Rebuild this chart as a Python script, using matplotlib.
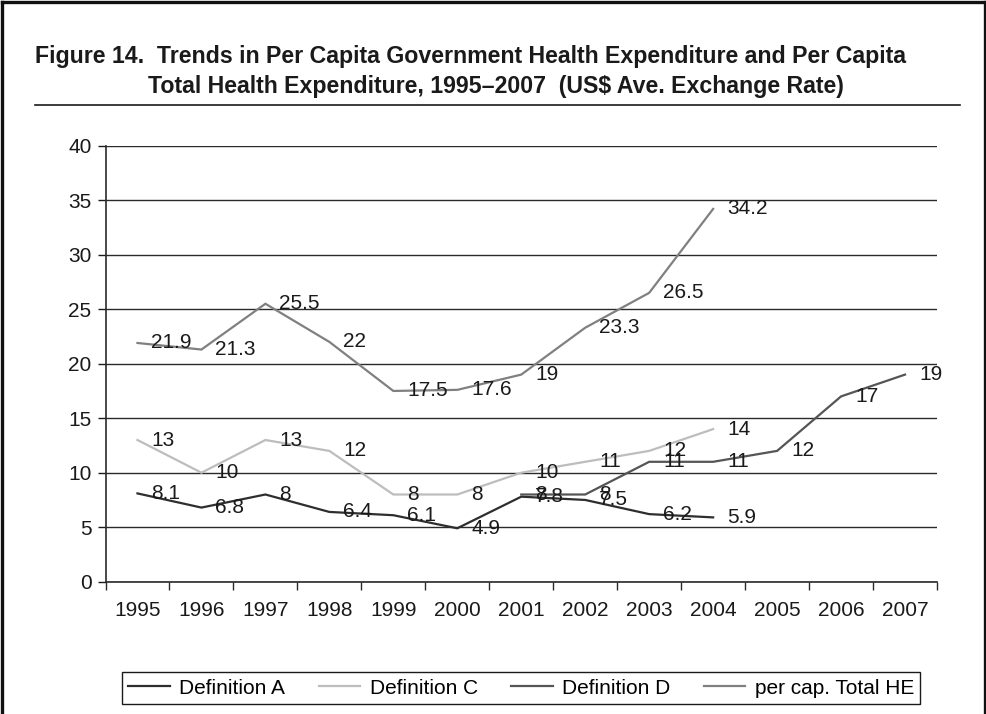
import matplotlib
matplotlib.use("Agg")
import matplotlib.pyplot as plt
from matplotlib.lines import Line2D
import numpy as np

years = ["1995", "1996", "1997", "1998", "1999", "2000", "2001",
         "2002", "2003", "2004", "2005", "2006", "2007"]
def_a = [8.1, 6.8, 8, 6.4, 6.1, 4.9, 7.8, 7.5, 6.2, 5.9, None, None, None]
def_c = [13, 10, 13, 12, 8, 8, 10, 11, 12, 14, None, None, None]
def_d = [None, None, None, None, None, None, 8, 8, 11, 11, 12, 17, 19]
total_he = [21.9, 21.3, 25.5, 22, 17.5, 17.6, 19, 23.3, 26.5, 34.2, None, None, None]

series = [
    ("Definition A", def_a, "#2e2e2e"),
    ("Definition C", def_c, "#bdbdbd"),
    ("Definition D", def_d, "#555555"),
    ("per cap. Total HE", total_he, "#808080"),
]

plt.rcParams['font.family'] = ['Liberation Sans', 'DejaVu Sans']

W, H = 987, 714
fig = plt.figure(figsize=(W / 100, H / 100), dpi=100)
fig.patch.set_facecolor("white")

left, right, top, bottom = 105.5, 937, 145.7, 581.7
ax = fig.add_axes([left / W, 1 - bottom / H, (right - left) / W, (bottom - top) / H])

x = np.arange(len(years))
for name, vals, col in series:
    xs = [xi for xi, v in zip(x, vals) if v is not None]
    ys = [v for v in vals if v is not None]
    ax.plot(xs, ys, color=col, lw=1.6, label=name, solid_joinstyle='miter', zorder=3)
    for xi, v in zip(xs, ys):
        lab = ("%g" % v)
        ax.annotate(lab, (xi, v), xytext=(10, 0), textcoords="offset points",
                    ha="left", va="center", fontsize=15, color="#1a1a1a", zorder=4)

ax.set_xlim(-0.5, len(years) - 0.5)
ax.set_ylim(0, 40)
ax.set_yticks(np.arange(0, 41, 5))
ax.set_yticklabels([str(v) for v in range(0, 41, 5)])
ax.grid(axis="y", color="#2a2a2a", lw=1.0, zorder=1)
ax.set_axisbelow(True)

ax.set_xticks(x)
ax.set_xticklabels(years)
ax.set_xticks(np.arange(-0.5, len(years), 1), minor=True)
ax.tick_params(axis="x", which="major", length=0, pad=14, labelsize=15, colors="#1a1a1a")
ax.tick_params(axis="x", which="minor", length=6, width=1.0, direction="out", color="#2a2a2a")
ax.tick_params(axis="y", length=6, width=1.0, direction="out", pad=4, labelsize=15,
               colors="#1a1a1a")
for s in ["top", "right"]:
    ax.spines[s].set_visible(False)
for s in ["left", "bottom"]:
    ax.spines[s].set_color("#2a2a2a")
    ax.spines[s].set_linewidth(1.2)

leg = ax.legend(loc="center", bbox_to_anchor=(0.5, -0.244), ncol=4, fontsize=15,
                frameon=True, fancybox=False, edgecolor="#1a1a1a", framealpha=1,
                handlelength=2.0, handletextpad=0.45, columnspacing=1.6,
                borderpad=0.3)
leg.get_frame().set_linewidth(1.0)

# title
tfam = ['Liberation Sans', 'DejaVu Sans']
fig.text(35 / W, 1 - 63 / H,
         "Figure 14.  Trends in Per Capita Government Health Expenditure and Per Capita",
         ha="left", va="baseline", fontsize=16.7, fontweight="bold", family=tfam, color="#1a1a1a")
fig.text(148 / W, 1 - 93 / H,
         "Total Health Expenditure, 1995\u20132007  (US$ Ave. Exchange Rate)",
         ha="left", va="baseline", fontsize=16.7, fontweight="bold", family=tfam, color="#1a1a1a")
fig.add_artist(Line2D([35 / W, 960 / W], [1 - 105 / H, 1 - 105 / H],
                      transform=fig.transFigure, color="#1a1a1a", lw=1.2))

# outer frame (left, top, right)
fr = dict(transform=fig.transFigure, color="#111111", lw=2.4)
fig.add_artist(Line2D([2 / W, 2 / W], [0, 1 - 2 / H], **fr))
fig.add_artist(Line2D([2 / W, 985 / W], [1 - 2 / H, 1 - 2 / H], **fr))
fig.add_artist(Line2D([985 / W, 985 / W], [0, 1 - 2 / H], **fr))

fig.savefig("out.png", dpi=100)
